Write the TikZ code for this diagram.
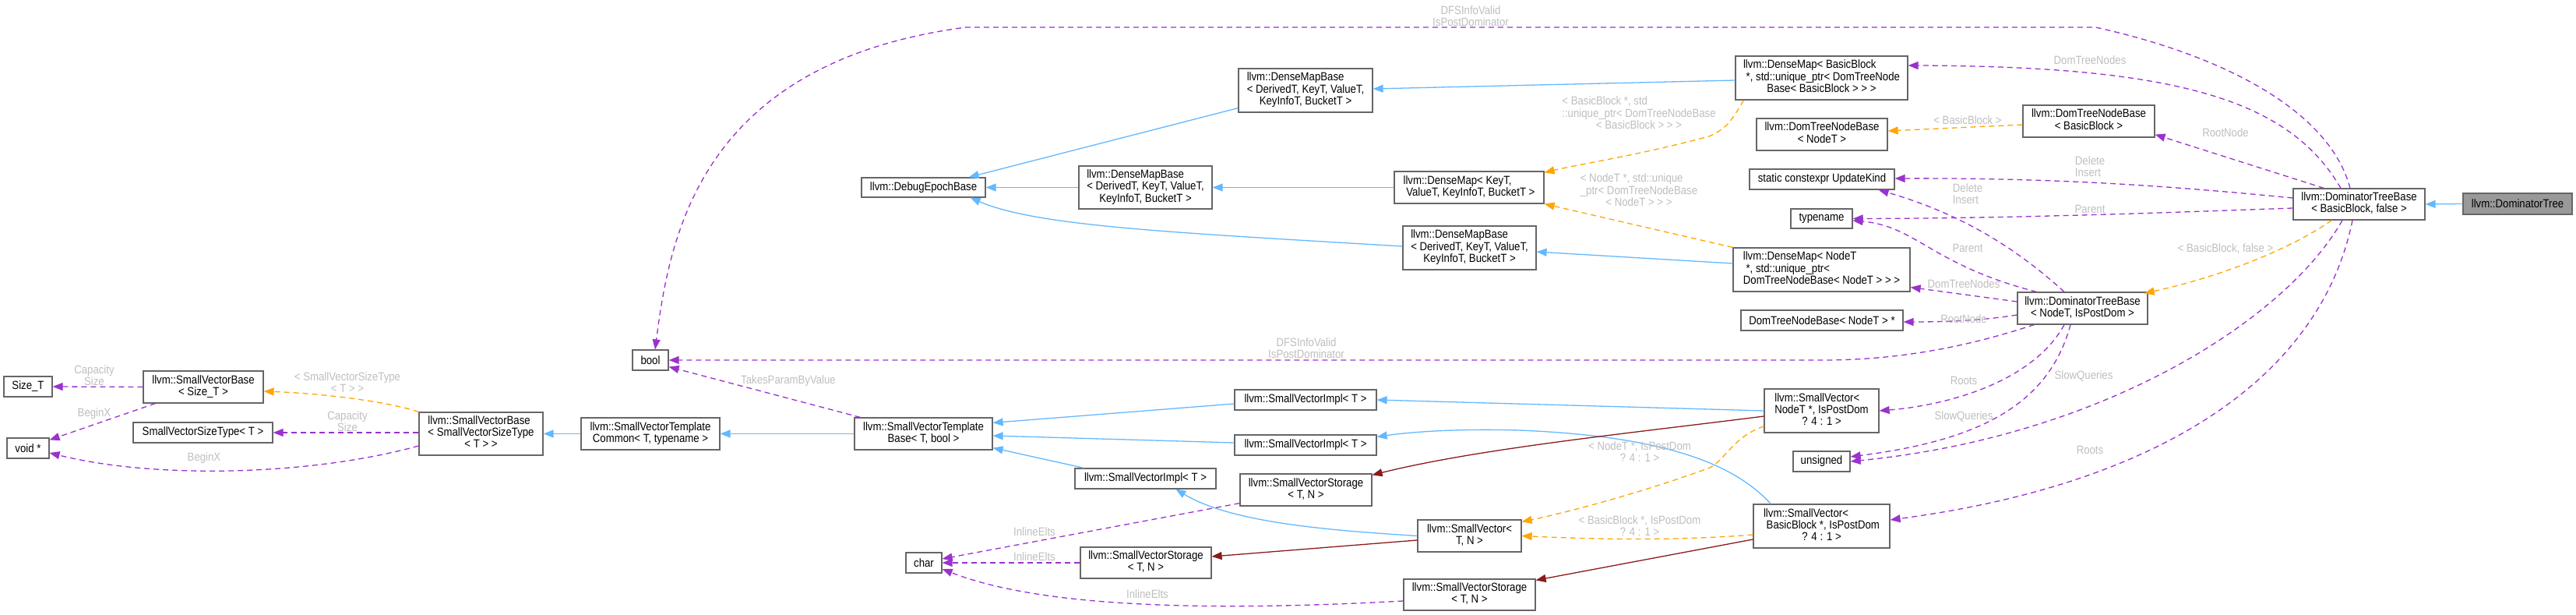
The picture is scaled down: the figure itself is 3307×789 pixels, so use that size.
\documentclass[tikz,border=0pt]{standalone}
\usepackage{fontspec}
\setmainfont{Liberation Sans}[FakeStretch=0.88]
\usetikzlibrary{arrows.meta}
\definecolor{nodeborder}{HTML}{666666}
\definecolor{mainfill}{HTML}{999999}
\definecolor{inhblue}{HTML}{63B8FF}
\definecolor{tmplorange}{HTML}{FFA500}
\definecolor{usepurple}{HTML}{9A32CD}
\definecolor{privred}{HTML}{8B1A1A}
\definecolor{lblgray}{HTML}{BEBEBE}
\newcommand{\dxl}[1]{\begin{tabular}{@{}l@{}}#1\end{tabular}}
\newcommand{\dxc}[1]{\multicolumn{1}{@{}c@{}}{#1}}
\begin{document}
\begin{tikzpicture}[x=1pt,y=-1pt,
  box/.style={draw=nodeborder, fill=white, line width=1.2pt, inner sep=0pt, font=\fontsize{15}{15}\selectfont},
  mainbox/.style={box, fill=mainfill},
  lbl/.style={inner sep=0pt, text=lblgray, font=\fontsize{15}{15}\selectfont, align=center},
  arrowtip/.style={-{Triangle[length=13pt,width=10pt]}},
  inh/.style={draw=inhblue, line width=1.3pt, arrowtip},
  priv/.style={draw=privred, line width=1.3pt, arrowtip},
  tmpl/.style={draw=tmplorange, line width=1.3pt, dash pattern=on 7pt off 5pt, arrowtip},
  usage/.style={draw=usepurple, line width=1.3pt, dash pattern=on 7pt off 5pt, arrowtip},
]
\useasboundingbox (0,0) rectangle (3307,789);

% ---------- nodes ----------
\node[mainbox, minimum width=140pt, minimum height=27pt] (dt) at (3232,261.5) {llvm::DominatorTree};
\node[box, minimum width=169pt, minimum height=40pt] (dtbbb) at (3028.5,262) {\dxl{llvm::DominatorTreeBase\\\dxc{< BasicBlock, false >}}};
\node[box, minimum width=169pt, minimum height=41pt] (dtnbbb) at (2681.5,155.5) {\dxl{llvm::DomTreeNodeBase\\\dxc{< BasicBlock >}}};
\node[box, minimum width=167pt, minimum height=41pt] (dtbn) at (2673.5,395.5) {\dxl{llvm::DominatorTreeBase\\\dxc{< NodeT, IsPostDom >}}};
\node[box, minimum width=221pt, minimum height=56pt] (dmbb) at (2338.5,100) {\dxl{llvm::DenseMap< BasicBlock\\\ *, std::unique\_ptr< DomTreeNode\\\dxc{Base< BasicBlock > > >}}};
\node[box, minimum width=168pt, minimum height=41pt] (dtnbn) at (2339,172.5) {\dxl{llvm::DomTreeNodeBase\\\dxc{< NodeT >}}};
\node[box, minimum width=186pt, minimum height=26pt] (uk) at (2339,230) {static constexpr UpdateKind};
\node[box, minimum width=79pt, minimum height=25pt] (tn) at (2338.5,280.5) {typename};
\node[box, minimum width=227pt, minimum height=56pt] (dmn) at (2338.5,346) {\dxl{llvm::DenseMap< NodeT\\\ *, std::unique\_ptr<\\\dxc{DomTreeNodeBase< NodeT > > >}}};
\node[box, minimum width=208pt, minimum height=26pt] (dtnbp) at (2339,411) {DomTreeNodeBase< NodeT > *};
\node[box, minimum width=147pt, minimum height=56pt] (svn) at (2338.5,527) {\dxl{llvm::SmallVector<\\\dxc{NodeT *, IsPostDom}\\\dxc{? 4 : 1 >}}};
\node[box, minimum width=73pt, minimum height=26pt] (uns) at (2338.5,592) {unsigned};
\node[box, minimum width=175pt, minimum height=56pt] (svbb) at (2338.5,675) {\dxl{llvm::SmallVector<\\\ BasicBlock *, IsPostDom\\\dxc{? 4 : 1 >}}};
\node[box, minimum width=172pt, minimum height=56pt] (dmbt) at (1676,116) {\dxl{llvm::DenseMapBase\\< DerivedT, KeyT, ValueT,\\\dxc{KeyInfoT, BucketT >}}};
\node[box, minimum width=192pt, minimum height=41pt] (dmk) at (1886,240.5) {\dxl{llvm::DenseMap< KeyT,\\\ ValueT, KeyInfoT, BucketT >}};
\node[box, minimum width=171pt, minimum height=56pt] (dmbl) at (1886.5,318) {\dxl{llvm::DenseMapBase\\< DerivedT, KeyT, ValueT,\\\dxc{KeyInfoT, BucketT >}}};
\node[box, minimum width=171pt, minimum height=55pt] (dmbm) at (1470.5,240.5) {\dxl{llvm::DenseMapBase\\< DerivedT, KeyT, ValueT,\\\dxc{KeyInfoT, BucketT >}}};
\node[box, minimum width=159pt, minimum height=25pt] (deb) at (1185.5,240.5) {llvm::DebugEpochBase};
\node[box, minimum width=46pt, minimum height=26pt] (bool) at (835,462) {bool};
\node[box, minimum width=182pt, minimum height=26pt] (svi1) at (1676,513) {llvm::SmallVectorImpl< T >};
\node[box, minimum width=182pt, minimum height=26pt] (svi2) at (1676,571) {llvm::SmallVectorImpl< T >};
\node[box, minimum width=181pt, minimum height=26pt] (svi3) at (1470.5,614) {llvm::SmallVectorImpl< T >};
\node[box, minimum width=169pt, minimum height=41pt] (svs1) at (1676.5,628.5) {\dxl{llvm::SmallVectorStorage\\\dxc{< T, N >}}};
\node[box, minimum width=133pt, minimum height=41pt] (svtn) at (1886.5,687.5) {\dxl{llvm::SmallVector<\\\dxc{T, N >}}};
\node[box, minimum width=168pt, minimum height=40pt] (svs2) at (1471,722) {\dxl{llvm::SmallVectorStorage\\\dxc{< T, N >}}};
\node[box, minimum width=169pt, minimum height=40pt] (svs3) at (1886.5,763) {\dxl{llvm::SmallVectorStorage\\\dxc{< T, N >}}};
\node[box, minimum width=46pt, minimum height=26pt] (chr) at (1186,722) {char};
\node[box, minimum width=177pt, minimum height=41pt] (svtb) at (1185.5,556.5) {\dxl{llvm::SmallVectorTemplate\\\dxc{Base< T, bool >}}};
\node[box, minimum width=178pt, minimum height=41pt] (svtc) at (835,556.5) {\dxl{llvm::SmallVectorTemplate\\\dxc{Common< T, typename >}}};
\node[box, minimum width=159pt, minimum height=55pt] (svbsst) at (617.5,556.5) {\dxl{llvm::SmallVectorBase\\< SmallVectorSizeType\\\dxc{< T > >}}};
\node[box, minimum width=154pt, minimum height=41pt] (svbs) at (261,496.5) {\dxl{llvm::SmallVectorBase\\\dxc{< Size\_T >}}};
\node[box, minimum width=179pt, minimum height=26pt] (svst) at (260.5,555) {SmallVectorSizeType< T >};
\node[box, minimum width=62pt, minimum height=26pt] (sizet) at (36,496) {Size\_T};
\node[box, minimum width=54pt, minimum height=26pt] (voidp) at (36,575) {void *};

% ---------- inheritance (blue) ----------
\draw[inh] (dt.west) -- (dtbbb.east);
\draw[inh] ([yshift=6pt]dmbt.south west) -- ([xshift=-22pt]deb.north east);
\draw[inh] (dmbm.west) -- (deb.east);
\draw[inh] ([yshift=2pt]dmbl.west) .. controls (1500,298) and (1330,290) .. ([xshift=-20pt]deb.south east);
\draw[inh] ([yshift=-3pt]dmbb.west) -- ([yshift=2pt]dmbt.east);
\draw[inh] (dmk.west) -- (dmbm.east);
\draw[inh] ([yshift=8pt]dmn.west) -- ([yshift=-5pt]dmbl.east);
\draw[inh] (svtc.west) -- (svbsst.east);
\draw[inh] (svtb.west) -- (svtc.east);
\draw[inh] ([yshift=-5pt]svi1.west) -- ([yshift=-7pt]svtb.north east);
\draw[inh] ([yshift=3pt]svi2.west) -- ([yshift=-2.5pt]svtb.east);
\draw[inh] ([xshift=12pt]svi3.north west) -- ([yshift=3pt]svtb.south east);
\draw[inh] (svn.west) -- (svi1.east);
\draw[inh] ([xshift=23pt]svbb.north west) .. controls (2230,600) and (2150,560) .. (1950,552) .. controls (1880,550) and (1820,553) .. ([yshift=-3pt]svi2.north east);
\draw[inh] (svtn.west) .. controls (1700,680) and (1580,670) .. ([xshift=130pt]svi3.south west);

% ---------- private inheritance (dark red) ----------
\draw[priv] ([yshift=-7pt]svn.west) .. controls (2100,555) and (1900,575) .. ([yshift=-2pt]svs1.north east);
\draw[priv] ([yshift=-5.5pt]svtn.west) -- ([yshift=8pt]svs2.east);
\draw[priv] ([yshift=-17pt]svbb.west) -- ([yshift=-2pt]svs3.north east);

% ---------- template instances (orange) ----------
\draw[tmpl] (svbsst.north west) .. controls (500,516) and (420,505) .. ([yshift=-5.5pt]svbs.east);
\draw[tmpl] ([xshift=11pt]dmbb.south west) .. controls (2220,160) and (2215,165) .. (2194,175) .. controls (2100,200) and (2030,210) .. ([yshift=-2pt]dmk.north east);
\draw[tmpl] (dmn.north west) -- (dmk.south east);
\draw[tmpl] ([yshift=-4.5pt]dtnbbb.west) -- ([yshift=4.5pt]dtnbn.east);
\draw[tmpl] ([xshift=50pt]dtbbb.south west) .. controls (2940,320) and (2850,355) .. ([xshift=-5pt,yshift=-2pt]dtbn.north east);
\draw[tmpl] ([yshift=-20pt]svn.west) .. controls (2225,560) and (2215,590) .. (2195,600) .. controls (2100,635) and (2000,660) .. ([yshift=-3pt]svtn.north east);
\draw[tmpl] ([yshift=-11pt]svbb.west) .. controls (2150,694) and (2050,692) .. (svtn.east);

% ---------- usage (purple) ----------
\draw[usage] (svbs.west) -- (sizet.east);
\draw[usage] ([xshift=16pt]svbs.south west) -- ([yshift=-3pt]voidp.north east);
\draw[usage] ([yshift=1.5pt]svbsst.west) -- (svst.east);
\draw[usage] ([yshift=-15.5pt]svbsst.west) .. controls (400,610) and (200,615) .. ([yshift=-6pt]voidp.east);
\draw[usage] ([xshift=8pt]svtb.north west) -- ([yshift=5pt]bool.south east);
\draw[usage] ([xshift=22pt]dtbn.south west) .. controls (2540,440) and (2450,462) .. (2340,462) -- (bool.east);
\draw[usage] ([xshift=-11.5pt]dtbbb.north) .. controls (2990,140) and (2850,70) .. (2690,35) -- (1240,35) .. controls (900,80) and (860,300) .. ([xshift=6pt]bool.north);
\draw[usage] ([xshift=-23.5pt]dtbbb.north) .. controls (2940,130) and (2800,85) .. ([yshift=16pt]dmbb.east);
\draw[usage] ([xshift=40pt]dtbbb.north west) -- ([yshift=4pt]dtnbbb.south east);
\draw[usage] ([yshift=8pt]dtbbb.west) .. controls (2800,240) and (2650,228) .. ([yshift=1pt]uk.east);
\draw[usage] ([yshift=-5pt]dtbbb.west) .. controls (2800,272) and (2600,280) .. (tn.east);
\draw[usage] ([xshift=-21.5pt]dtbbb.south) .. controls (2935,410) and (2700,560) .. (uns.east);
\draw[usage] ([xshift=-8.5pt]dtbbb.south) .. controls (2980,480) and (2780,620) .. ([yshift=8pt]svbb.east);
\draw[usage] ([xshift=-23.5pt]dtbn.north) .. controls (2590,320) and (2520,275) .. ([xshift=-21pt]uk.south east);
\draw[usage] ([xshift=25pt]dtbn.north west) .. controls (2480,340) and (2460,290) .. ([yshift=-2.5pt]tn.east);
\draw[usage] ([yshift=8.5pt]dtbn.west) -- ([yshift=6pt]dmn.south east);
\draw[usage] ([yshift=-8.5pt]dtbn.west) .. controls (2540,412) and (2490,413) .. ([yshift=-2pt]dtnbp.east);
\draw[usage] ([xshift=-23.5pt]dtbn.south) .. controls (2610,490) and (2500,520) .. (svn.east);
\draw[usage] ([xshift=-15.5pt]dtbn.south) .. controls (2630,520) and (2540,565) .. ([yshift=6pt]uns.east);
\draw[usage] ([yshift=4pt]svs1.south west) -- ([yshift=5pt]chr.east);
\draw[usage] (svs2.west) -- (chr.east);
\draw[usage] ([yshift=-8pt]svs3.west) .. controls (1600,782) and (1350,785) .. ([yshift=-8pt]chr.east);

% ---------- edge labels ----------
\node[lbl] (lDfsTop) at (1888,20.5) {DFSInfoValid\\IsPostDominator};
\node[lbl] (lDfsLow) at (1677,447) {DFSInfoValid\\IsPostDominator};
\node[lbl] (lDtnTop) at (2683,77) {DomTreeNodes};
\node[lbl] (lRootTop) at (2857,170) {RootNode};
\node[lbl] (lDelTop) at (2683,215.5) {\dxl{Delete\\Insert}};
\node[lbl] (lParTop) at (2683,268) {Parent};
\node[lbl] (lBBf) at (2857,319) {< BasicBlock, false >};
\node[lbl] (lDelLow) at (2526,250.5) {\dxl{Delete\\Insert}};
\node[lbl] (lParLow) at (2526,318) {Parent};
\node[lbl] (lDtnLow) at (2521,364) {DomTreeNodes};
\node[lbl] (lRootLow) at (2521,409) {RootNode};
\node[lbl] (lRootsLow) at (2521,488) {Roots};
\node[lbl] (lSlowLow) at (2521,534) {SlowQueries};
\node[lbl] (lSlowTop) at (2675,482) {SlowQueries};
\node[lbl] (lRootsTop) at (2683,577) {Roots};
\node[lbl] (lBB) at (2526,154) {< BasicBlock >};
\node[lbl] (lBBstd) at (2104,147) {\dxl{< BasicBlock *, std\\::unique\_ptr< DomTreeNodeBase\\\dxc{< BasicBlock > > >}}};
\node[lbl] (lNstd) at (2104,246) {\dxl{< NodeT *, std::unique\\\_ptr< DomTreeNodeBase\\\dxc{< NodeT > > >}}};
\node[lbl] (lNpd) at (2105,579.5) {< NodeT *, IsPostDom\\? 4 : 1 >};
\node[lbl] (lBpd) at (2105,674.5) {< BasicBlock *, IsPostDom\\? 4 : 1 >};
\node[lbl] (lIE1) at (1328,682) {InlineElts};
\node[lbl] (lIE2) at (1328,714) {InlineElts};
\node[lbl] (lIE3) at (1473,762) {InlineElts};
\node[lbl] (lTPV) at (1012,489) {TakesParamByValue};
\node[lbl] (lCS1) at (121,482) {Capacity\\Size};
\node[lbl] (lBX1) at (121,531) {BeginX};
\node[lbl] (lSVST) at (446,490.5) {< SmallVectorSizeType\\< T > >};
\node[lbl] (lCS2) at (446,541) {Capacity\\Size};
\node[lbl] (lBX2) at (262,588) {BeginX};
\end{tikzpicture}
\end{document}
